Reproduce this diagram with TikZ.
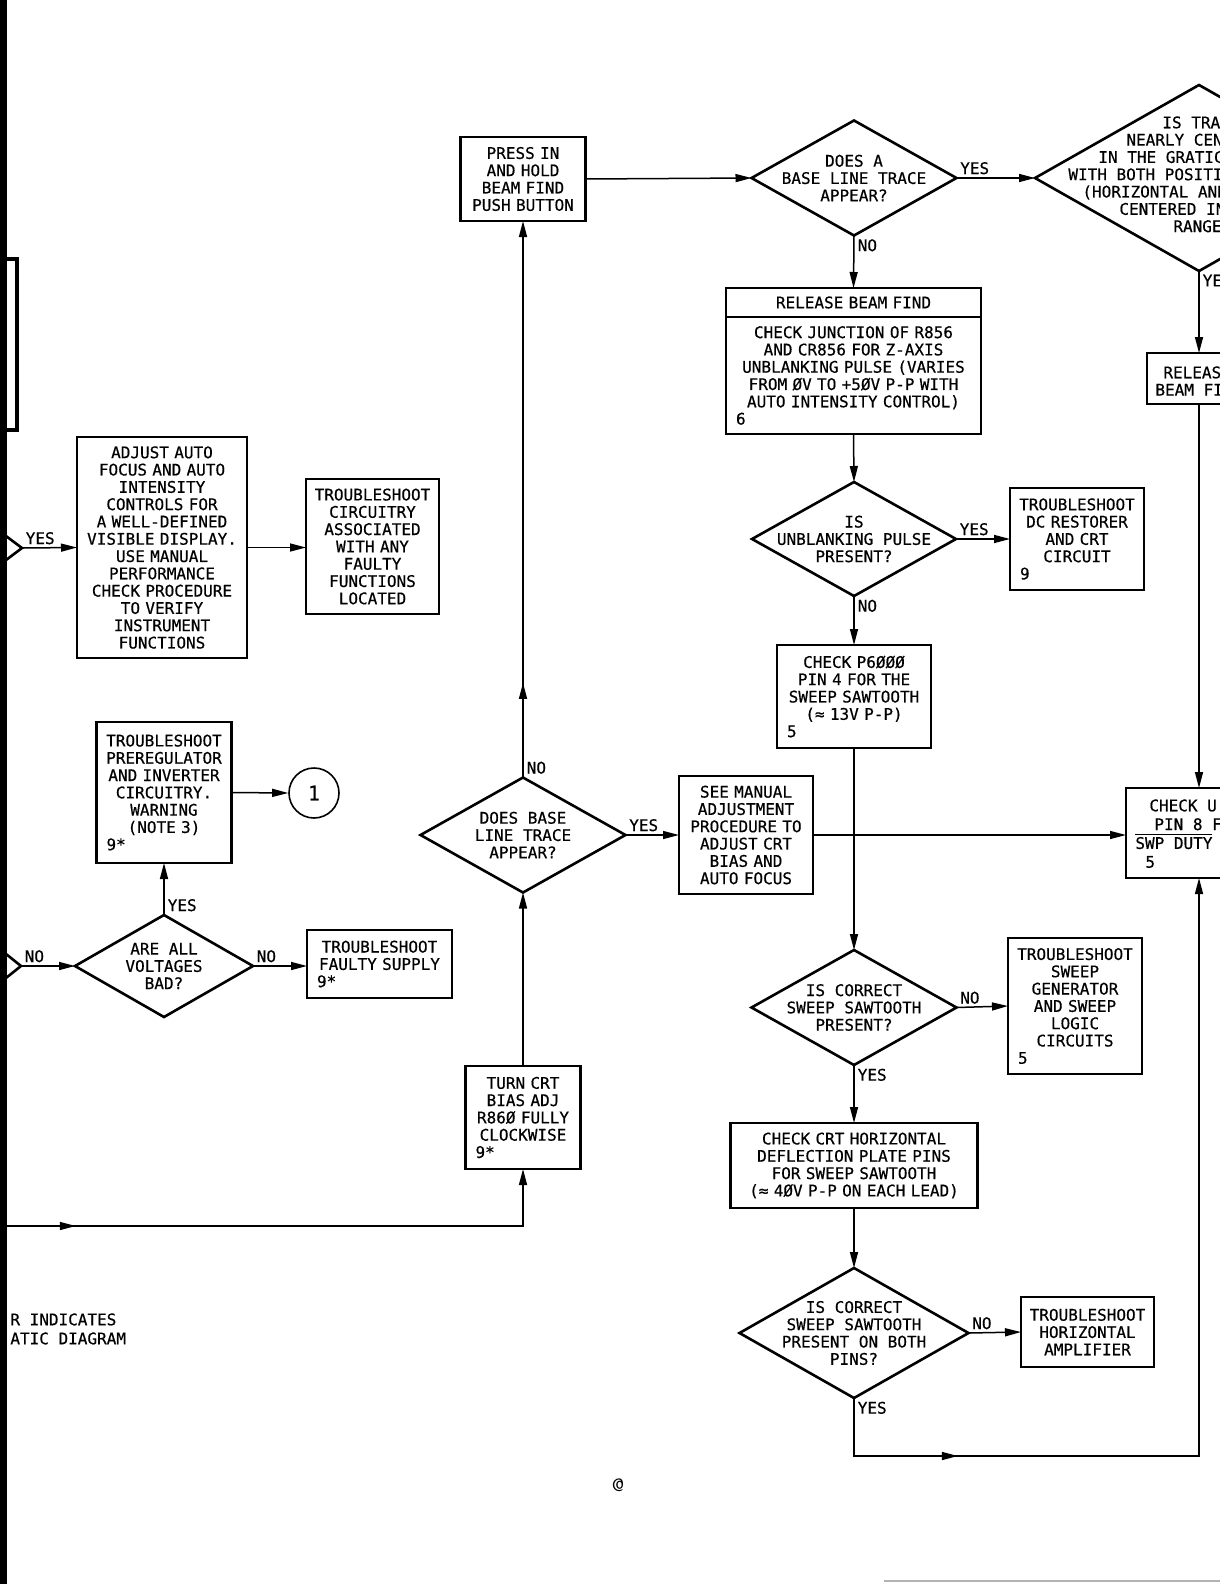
\documentclass[tikz,border=0pt]{standalone}
\usepackage{fontspec}
\newfontfamily\leroy{DejaVu Sans Mono}[FakeBold=0.5]
\usepackage{tikz}
\usetikzlibrary{arrows.meta}
\usetikzlibrary{shapes.geometric}
\usetikzlibrary{positioning}
\usetikzlibrary{decorations.markings}

\newcommand{\refno}[1]{\makebox[\linewidth][l]{\hspace*{3pt}#1}}

\tikzset{
  box/.style={draw, line width=1.3pt, inner sep=2pt, outer sep=0pt, align=center, font=\leroy\fontsize{8}{8.65}\selectfont},
  decision/.style={draw, diamond, line width=1.3pt, inner sep=0pt, outer sep=0pt},
  dtext/.style={align=center, font=\leroy\fontsize{8}{8.65}\selectfont, inner sep=0pt},
  lbl/.style={font=\leroy\fontsize{8}{8.65}\selectfont, inner sep=1.5pt},
  arr/.style={line width=0.75pt, -{Triangle[length=8pt,width=4pt]}},
  midarr/.style={postaction={decorate, decoration={markings, mark=at position #1 with {\arrow{Triangle[length=8pt,width=4pt]}}}}},
}

\begin{document}
\begin{tikzpicture}[x=0.5pt, y=-0.5pt]
    \useasboundingbox (0,0) rectangle (1220,1584);
    \clip (0,0) rectangle (1220,1584);

    % left column
    \node[box, text width=81pt, minimum height=110.5pt] (adjust) at (162,547.5) {ADJUST AUTO\\FOCUS AND AUTO\\INTENSITY\\CONTROLS FOR\\A WELL-DEFINED\\VISIBLE DISPLAY.\\USE MANUAL\\PERFORMANCE\\CHECK PROCEDURE\\TO VERIFY\\INSTRUMENT\\FUNCTIONS};
    \node[box, text width=62.5pt, minimum height=67.5pt] (circuit) at (372.5,546.5) {TROUBLESHOOT\\CIRCUITRY\\ASSOCIATED\\WITH ANY\\FAULTY\\FUNCTIONS\\LOCATED};
    \node[box, text width=63.5pt, minimum height=70.5pt] (prereg) at (164,792.5) {TROUBLESHOOT\\PREREGULATOR\\AND INVERTER\\CIRCUITRY.\\WARNING\\(NOTE 3)\\\refno{9*}};
    \node[draw, circle, line width=0.8pt, minimum size=25pt, inner sep=0pt, font=\leroy\fontsize{10}{12}\selectfont] (one) at (314,793) {1};
    \node[decision, minimum width=89pt, minimum height=51pt, label={[dtext]center:ARE ALL\\VOLTAGES\\BAD?}] (volt) at (164,966) {};
    \node[box, text width=68.5pt, minimum height=34pt] (supply) at (379.5,964) {TROUBLESHOOT\\FAULTY SUPPLY\\\refno{9*}};

    % middle column
    \node[box, text width=58.5pt, minimum height=42pt] (press) at (523,179) {PRESS IN\\AND HOLD\\BEAM FIND\\PUSH BUTTON};
    \node[decision, minimum width=102.5pt, minimum height=57.5pt, label={[dtext]center:DOES BASE\\LINE TRACE\\APPEAR?}] (base2) at (523,835) {};
    \node[box, text width=53.5pt, minimum height=51.5pt] (turn) at (523,1117.5) {TURN CRT\\BIAS ADJ\\R86Ø FULLY\\CLOCKWISE\\\refno{9*}};
    \node[box, text width=63pt, minimum height=59pt] (manual) at (746,835) {SEE MANUAL\\ADJUSTMENT\\PROCEDURE TO\\ADJUST CRT\\BIAS AND\\AUTO FOCUS};

    % right column
    \node[decision, minimum width=102.5pt, minimum height=57.5pt, label={[dtext]center:DOES A\\BASE LINE TRACE\\APPEAR?}] (base1) at (854,178) {};
    \node[box, text width=123.5pt, minimum height=14.5pt] (relhdr) at (853.5,302.5) {RELEASE BEAM FIND};
    \node[box, text width=123.5pt, minimum height=58.5pt, below=0pt of relhdr] (relbody) {CHECK JUNCTION OF R856\\AND CR856 FOR Z-AXIS\\UNBLANKING PULSE (VARIES\\FROM ØV TO +5ØV P-P WITH\\AUTO INTENSITY CONTROL)\\\refno{6}};
    \node[decision, minimum width=102pt, minimum height=57pt, label={[dtext]center:IS\\UNBLANKING PULSE\\PRESENT?}] (blank) at (854,539) {};
    \node[box, text width=63pt, minimum height=51pt] (dcrest) at (1077,539) {TROUBLESHOOT\\DC RESTORER\\AND CRT\\CIRCUIT\\\refno{9}};
    \node[box, text width=73pt, minimum height=51.5pt] (p6000) at (854,696.5) {CHECK P6ØØØ\\PIN 4 FOR THE\\SWEEP SAWTOOTH\\(≈ 13V P-P)\\\refno{5}};
    \node[decision, minimum width=102.5pt, minimum height=57.5pt, label={[dtext]center:IS CORRECT\\SWEEP SAWTOOTH\\PRESENT?}] (sweep) at (854,1007.5) {};
    \node[box, text width=63pt, minimum height=68pt] (sweepgen) at (1075,1006) {TROUBLESHOOT\\SWEEP\\GENERATOR\\AND SWEEP\\LOGIC\\CIRCUITS\\\refno{5}};
    \node[box, text width=119.5pt, minimum height=42.5pt] (horiz) at (854,1165.5) {CHECK CRT HORIZONTAL\\DEFLECTION PLATE PINS\\FOR SWEEP SAWTOOTH\\(≈ 4ØV P-P ON EACH LEAD)};
    \node[decision, minimum width=114.5pt, minimum height=65pt, label={[dtext]center:IS CORRECT\\SWEEP SAWTOOTH\\PRESENT ON BOTH\\PINS?}] (both) at (854,1333) {};
    \node[box, text width=62.5pt, minimum height=35pt] (hamp) at (1087.5,1332) {TROUBLESHOOT\\HORIZONTAL\\AMPLIFIER};

    % cut off by the page edge
    \node[decision, minimum width=164pt, minimum height=93pt] (trace) at (1199,178) {};
    \node[dtext, align=left, anchor=north west] (trace-t) at (1068,116) {\hspace*{47pt}IS TRA\\\hspace*{29pt}NEARLY CEN\\\hspace*{15pt}IN THE GRATIC\\WITH BOTH POSITI\\\hspace*{7pt}(HORIZONTAL AND\\\hspace*{25.5pt}CENTERED IN\\\hspace*{52.5pt}RANGE};
    \node[box, anchor=north west, minimum width=56.5pt, minimum height=25.5pt] (relr) at (1147,353) {};
    \node[dtext, align=left, anchor=north west] (relr-t) at (1155,366) {\hspace*{4pt}RELEAS\\BEAM FI};
    \node[box, anchor=north west, minimum width=72pt, minimum height=45pt] (chku) at (1126,788) {};
    \node[dtext, align=left, anchor=north west, font=\leroy\fontsize{8}{9.4}\selectfont] (chku-t) at (1135,799) {\hspace*{7pt}CHECK U\\\hspace*{9.5pt}PIN 8 F\\\smash{$\overline{\hbox{SWP DUTY}}$}\\\hspace*{5pt}5};

    % off-page ends
    \coordinate (yin) at (22,548);
    \coordinate (nin) at (21,966);
    \coordinate (lin) at (7,1226);

    % connectors
    \draw[arr] (yin) -- node[lbl, pos=0, anchor=south west] {YES} (adjust.west);
    \draw[arr] (adjust.east) -- (adjust.east -| circuit.west);
    \draw[arr] (nin) -- node[lbl, pos=0, anchor=south west] {NO} (volt.west);
    \draw[arr] (volt.north) -- node[lbl, pos=0, anchor=south west] {YES} (prereg.south);
    \draw[arr] (volt.east) -- node[lbl, pos=0, anchor=south west] {NO} (volt.east -| supply.west);
    \draw[arr] (prereg.east) -- (one.west);

    \draw[arr] (press.east) -- (base1.west);
    \draw[arr] (base1.east) -- node[lbl, pos=0, anchor=south west] {YES} (trace.west);
    \draw[arr] (base1.south) -- node[lbl, pos=0, anchor=north west] {NO} (relhdr.north);
    \draw[arr] (trace.south) -- node[lbl, pos=0, anchor=north west] {YE} (trace.south |- relr.north);
    \draw[arr] (trace.south |- relr.south) -- (trace.south |- chku.north);
    \draw[arr] (relbody.south) -- (blank.north);
    \draw[arr] (blank.east) -- node[lbl, pos=0, anchor=south west] {YES} (dcrest.west);
    \draw[arr] (blank.south) -- node[lbl, pos=0, anchor=north west] {NO} (p6000.north);
    \draw[arr] (p6000.south) -- (sweep.north);
    \draw[arr] (manual.east) -- (manual.east -| chku.west);
    \draw[arr] (base2.east) -- node[lbl, pos=0, anchor=south west] {YES} (manual.west);
    \draw[arr, midarr=0.17] (base2.north) -- node[lbl, pos=0, anchor=south west] {NO} (press.south);
    \draw[arr] (turn.north) -- (base2.south);
    \draw[arr, midarr=0.12] (lin) -| (turn.south);
    \draw[arr] (sweep.east) -- node[lbl, pos=0, anchor=south west] {NO} (sweepgen.west);
    \draw[arr] (sweep.south) -- node[lbl, pos=0, anchor=north west] {YES} (horiz.north);
    \draw[arr] (horiz.south) -- (both.north);
    \draw[arr] (both.east) -- node[lbl, pos=0, anchor=south west] {NO} (hamp.west);
    \draw[arr, midarr=0.165] (both.south) -- node[lbl, pos=0, anchor=north west] {YES} ++(0,58) -| (trace.south |- chku.south);

    % note and page marks
    \node[dtext, align=left, anchor=north west, font=\leroy\fontsize{8}{9.5}\selectfont] (note) at (10,1313) {R INDICATES\\ATIC DIAGRAM};
    \node[inner sep=0pt, font=\sffamily\fontsize{9}{10}\selectfont] (atmark) at (618,1485) {@};

    % binding edge
    \fill (0,0) rectangle (7,1584);
    \draw[line width=2pt] (4,259) rectangle (17,430);
    \draw[line width=1.3pt] (6,536) -- (yin) -- (6,560);
    \draw[line width=1.3pt] (6,954) -- (nin) -- (6,978);
    \draw[gray!60, line width=0.6pt] (884,1581) -- (1220,1581);
\end{tikzpicture}
\end{document}
